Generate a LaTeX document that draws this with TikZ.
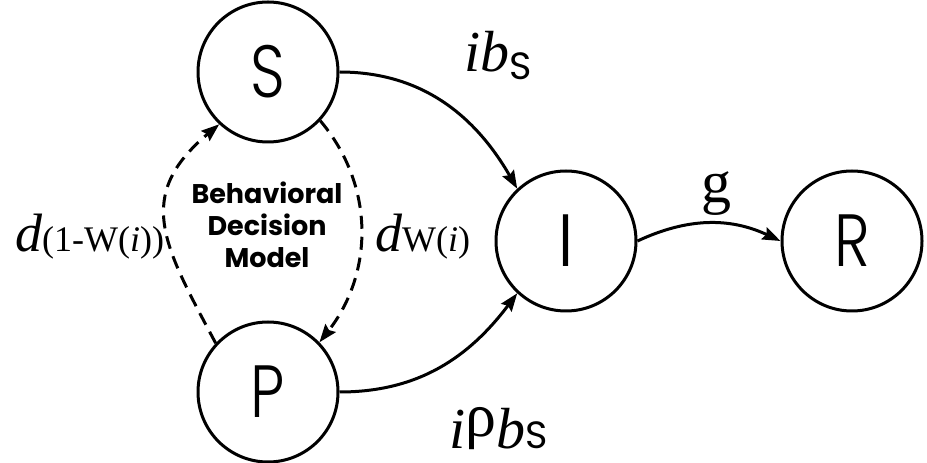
\documentclass[tikz,border=0pt]{standalone}
\usepackage{fontspec}
\setmainfont{Liberation Serif}
\setsansfont{Poppins}
\newfontfamily\lightfont{Poppins Light}
\usetikzlibrary{arrows.meta}
\newcommand{\narrowletter}[1]{\scalebox{0.82}[1]{#1}}
\begin{document}
\begin{tikzpicture}[x=1pt,y=1pt,
  state/.style={circle, draw, line width=3pt, minimum size=140pt, inner sep=0pt,
    font=\lightfont\fontsize{74}{74}\selectfont},
  flow/.style={line width=3pt, -{Stealth[length=18pt,width=13pt,inset=2.5pt]}},
  dflow/.style={flow, dash pattern=on 13pt off 8pt},
  lab/.style={inner sep=0pt, anchor=base west}
]
\useasboundingbox (0,0) rectangle (927,463);
\node[state] (S) at (268,391) {\narrowletter{S}};
\node[state] (P) at (268,71) {\narrowletter{P}};
\node[state] (I) at (566,222) {I};
\node[state] (R) at (852,222) {\narrowletter{R}};

\draw[flow] (S.east) to[out=0,in=120] (I.133);
\draw[flow] (P.east) to[out=0,in=-127] (I.227);
\draw[flow] (I.east) to[bend left=25] (R.west);
\draw[dflow] (P.137) to[out=118,in=-140,looseness=1.3] (S.227);
\draw[dflow] (S.-43) to[out=-50,in=52] (P.44);

\node[lab] (lbS) at (464,391) {\fontsize{58}{58}\selectfont\itshape ib\raisebox{-8pt}{\sffamily\upshape\fontsize{38}{38}\selectfont S}};
\node[lab] (lbP) at (449,14) {\fontsize{58}{58}\selectfont\itshape i\raisebox{12pt}{\upshape\fontsize{62}{62}\selectfont ρ}b{\sffamily\upshape\fontsize{38}{38}\selectfont S}};
\node[inner sep=0pt, anchor=base] (lg) at (716,260) {\fontsize{60}{60}\selectfont g};
\node[lab] (ld1) at (15,211) {{\fontsize{54}{54}\selectfont\itshape d}\fontsize{36}{36}\selectfont(1-W(\textit{i}))};
\node[lab] (ld2) at (375,211) {{\fontsize{54}{54}\selectfont\itshape d}\fontsize{36}{36}\selectfont W(\textit{i})};
\node[align=center, inner sep=0pt, font=\sffamily\bfseries\fontsize{27}{32}\selectfont] (bdm) at (267,238) {Behavioral\\Decision\\Model};
\end{tikzpicture}
\end{document}
